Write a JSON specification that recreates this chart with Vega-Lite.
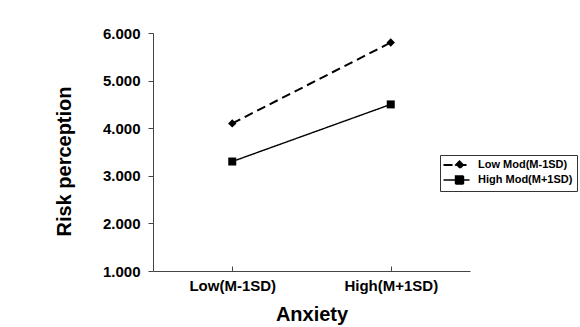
{
  "$schema": "https://vega.github.io/schema/vega-lite/v6.json",
  "width": 317,
  "height": 238,
  "autosize": {"type": "none"},
  "padding": {"left": 153, "top": 33, "right": 110, "bottom": 56},
  "background": "white",
  "config": {"font": "Liberation Sans", "view": {"stroke": null}},
  "data": {
    "values": [
      {"anxiety": "Low(M-1SD)", "group": "Low Mod(M-1SD)", "value": 4.1},
      {"anxiety": "High(M+1SD)", "group": "Low Mod(M-1SD)", "value": 5.8},
      {"anxiety": "Low(M-1SD)", "group": "High Mod(M+1SD)", "value": 3.3},
      {"anxiety": "High(M+1SD)", "group": "High Mod(M+1SD)", "value": 4.5}
    ]
  },
  "encoding": {
    "x": {
      "field": "anxiety",
      "type": "ordinal",
      "sort": ["Low(M-1SD)", "High(M+1SD)"],
      "scale": {"type": "point", "padding": 0.5},
      "axis": {
        "title": "Anxiety",
        "labelAngle": 0,
        "labelFont": "Liberation Sans",
        "labelFontSize": 15,
        "labelFontWeight": "bold",
        "labelColor": "black",
        "labelPadding": 12,
        "tickSize": -5,
        "tickColor": "#444",
        "domainColor": "#444",
        "titleFontSize": 20,
        "titleFontWeight": "bold",
        "titleColor": "black",
        "titleY": 33,
        "titleBaseline": "top",
        "grid": false
      }
    },
    "y": {
      "field": "value",
      "type": "quantitative",
      "scale": {"domain": [1, 6], "nice": false, "zero": false},
      "axis": {
        "title": "Risk perception",
        "values": [1, 2, 3, 4, 5, 6],
        "format": ".3f",
        "labelFontSize": 15,
        "labelFontWeight": "bold",
        "labelColor": "black",
        "labelPadding": 8,
        "tickSize": 5,
        "tickColor": "#444",
        "domainColor": "#444",
        "titleFontSize": 20,
        "titleFontWeight": "bold",
        "titleColor": "black",
        "titleX": -79,
        "titleY": 128,
        "titleAlign": "center",
        "titleBaseline": "bottom",
        "grid": false
      }
    }
  },
  "layer": [
    {
      "mark": {"type": "line", "color": "black"},
      "encoding": {
        "strokeDash": {
          "field": "group",
          "type": "nominal",
          "sort": ["Low Mod(M-1SD)", "High Mod(M+1SD)"],
          "scale": {"domain": ["Low Mod(M-1SD)", "High Mod(M+1SD)"], "range": [[9, 5], [1, 0]]},
          "legend": {
            "title": null,
            "orient": "none",
            "legendX": 287,
            "legendY": 122,
            "padding": 4,
            "rowPadding": 0,
            "strokeColor": "#333",
            "fillColor": "white",
            "symbolSize": 100,
            "symbolStrokeWidth": 1.3,
            "symbolStrokeColor": "black",
            "symbolFillColor": "black",
            "labelOffset": 22,
            "labelFont": "Liberation Sans",
            "labelFontSize": 11,
            "labelFontWeight": "bold",
            "labelColor": "black",
            "labelLimit": 200,
            "encode": {
              "symbols": {
                "update": {
                  "shape": {"signal": "datum.value === 'Low Mod(M-1SD)' ? 'M-1.3,0H3.9M1.9,-0.7L2.6,0L1.9,0.7L1.2,0Z' : 'M-1.3,0H3.9M1.1,-0.8H2.7V0.8H1.1Z'"},
                  "size": {"value": 100},
                  "fill": {"value": "black"},
                  "fillOpacity": {"value": 1},
                  "stroke": {"value": "black"},
                  "strokeWidth": {"value": 1.3},
                  "opacity": {"value": 1}
                }
              }
            }
          }
        },
        "strokeWidth": {
          "field": "group",
          "type": "nominal",
          "scale": {"domain": ["Low Mod(M-1SD)", "High Mod(M+1SD)"], "range": [2, 1.4]},
          "legend": null
        }
      }
    },
    {
      "transform": [{"filter": "datum.group === 'Low Mod(M-1SD)'"}],
      "mark": {"type": "point", "shape": "diamond", "size": 70, "filled": true, "color": "black", "opacity": 1}
    },
    {
      "transform": [{"filter": "datum.group === 'High Mod(M+1SD)'"}],
      "mark": {"type": "point", "shape": "square", "size": 64, "filled": true, "color": "black", "opacity": 1}
    }
  ]
}
